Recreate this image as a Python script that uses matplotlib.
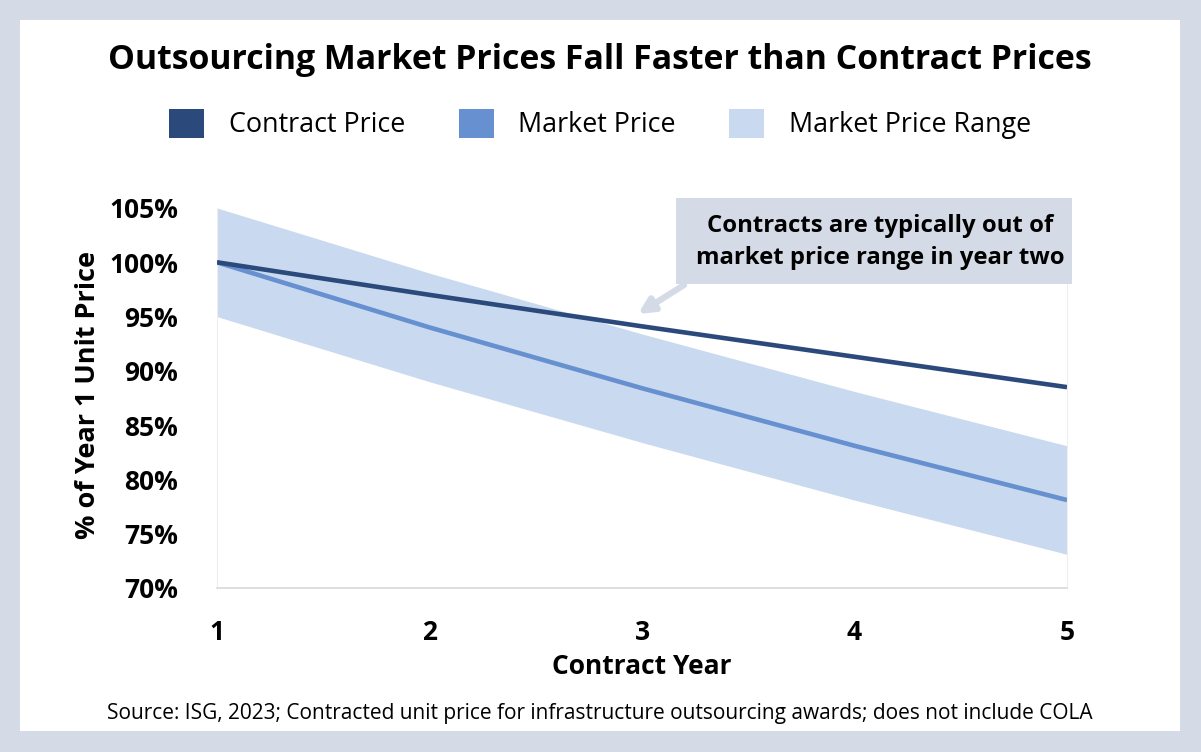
import matplotlib
matplotlib.use("Agg")
import matplotlib.pyplot as plt
from matplotlib.patches import Patch, Rectangle

years = [1, 2, 3, 4, 5]
contract_price = [100, 97, 94.1, 91.3, 88.5]
market_price = [100, 94, 88.4, 83.1, 78.1]
range_upper = [105, 99, 93.4, 88.1, 83.1]
range_lower = [95, 89, 83.4, 78.1, 73.1]
yticks = [70, 75, 80, 85, 90, 95, 100, 105]
ytick_labels = [f"{v}%" for v in yticks]

DARK = "#2B4A7B"
MID = "#6690CF"
LIGHT = "#C9D9EF"
FRAME = "#D5DBE6"

plt.rcParams['font.family'] = ['Open Sans', 'DejaVu Sans']

W, H = 1201, 752
fig = plt.figure(figsize=(W / 100, H / 100), dpi=100, facecolor=FRAME)
fig.patches.append(Rectangle((20 / W, 1 - 731 / H), 1160 / W, 711 / H,
                             transform=fig.transFigure, facecolor="white",
                             edgecolor="none", zorder=-10))

ax = fig.add_axes([217 / W, 1 - 588 / H, 850 / W, 380 / H])
ax.set_zorder(1)
ax.set_facecolor("none")
ax.fill_between(years, range_lower, range_upper, color=LIGHT, linewidth=0, zorder=1)
ax.plot(years, market_price, color=MID, linewidth=3.3, zorder=3, solid_capstyle="butt")
ax.plot(years, contract_price, color=DARK, linewidth=3.3, zorder=4, solid_capstyle="butt")

ax.set_xlim(1, 5)
ax.set_ylim(70, 105)
ax.set_xticks(years)
ax.set_xticklabels([str(y) for y in years], fontsize=19, fontweight="bold")
ax.set_yticks(yticks)
ax.set_yticklabels(ytick_labels, fontsize=19, fontweight="bold")
ax.tick_params(length=0, pad=22, axis="x")
ax.tick_params(length=0, pad=28, axis="y")
ax.spines["top"].set_visible(False)
ax.spines["left"].set_color("#EEEEEE")
ax.spines["right"].set_color("#EEEEEE")
ax.spines["bottom"].set_color("#D9D9D9")
ax.spines["bottom"].set_linewidth(1.2)

fig.text(642 / W, 1 - 666 / H, "Contract Year", fontsize=19, fontweight="bold",
         ha="center", va="center")
fig.text(88 / W, 1 - 395 / H, "% of Year 1 Unit Price", rotation=90,
         fontsize=19.5, fontweight="bold", ha="center", va="center")

fig.text(600 / W, 1 - 60 / H,
         "Outsourcing Market Prices Fall Faster than Contract Prices",
         fontsize=24.4, fontweight="bold", ha="center", va="center")

handles = [Patch(facecolor=DARK, label="Contract Price"),
           Patch(facecolor=MID, label="Market Price"),
           Patch(facecolor=LIGHT, label="Market Price Range")]
fig.legend(handles=handles, loc="center", bbox_to_anchor=(600 / W, 1 - 124 / H),
           ncol=3, frameon=False, fontsize=19.4, handlelength=1.3, handleheight=1.3,
           handletextpad=0.9, columnspacing=2.0)

# annotation box
fig.patches.append(Rectangle((676 / W, 1 - 284 / H), 396 / W, 86 / H,
                             transform=fig.transFigure, facecolor=FRAME,
                             edgecolor="none", zorder=5))
fig.text(880 / W, 1 - 242 / H,
         "Contracts are typically out of\nmarket price range in year two",
         fontsize=17.2, fontweight="bold", ha="center", va="center",
         linespacing=1.4, zorder=6)
ax.annotate("", xy=(638 / W, 1 - 314 / H), xytext=(684 / W, 1 - 285 / H),
            xycoords="figure fraction", textcoords="figure fraction",
            arrowprops=dict(arrowstyle="-|>,head_length=0.9,head_width=0.45",
                            color=FRAME, lw=4.5, shrinkA=0, shrinkB=0),
            zorder=6, annotation_clip=False)

fig.text(600 / W, 1 - 714 / H,
         "Source: ISG, 2023; Contracted unit price for infrastructure outsourcing awards; does not include COLA",
         fontsize=15, ha="center", va="center")

fig.savefig("out.png", dpi=100, facecolor=FRAME)
